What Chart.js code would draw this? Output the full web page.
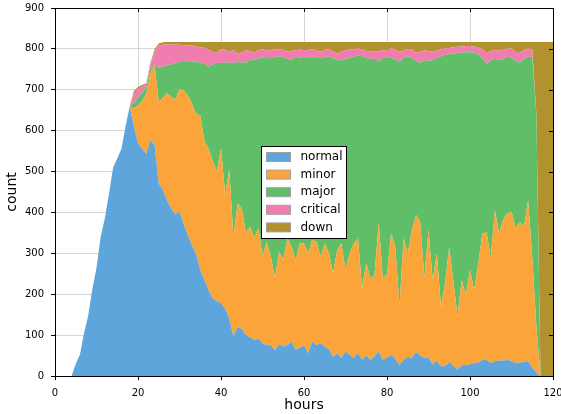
<!DOCTYPE html>
<html>
<head>
<meta charset="utf-8">
<script src="https://cdn.jsdelivr.net/npm/chart.js@4/dist/chart.umd.min.js"></script>
<style>
  html, body { margin: 0; padding: 0; background: #fff; }
</style>
</head>
<body>
<canvas id="chart" width="561" height="414"></canvas>
<script>
// ---------- Data ----------

const hours = [
    0, 1, 2, 3, 4, 5, 6, 7, 8, 9, 10, 11, 12, 13, 14, 15, 16, 17, 18, 19, 20,
    21, 22, 23, 24, 25, 26, 27, 28, 29, 30, 31, 32, 33, 34, 35, 36, 37, 38, 39, 40,
    41, 42, 43, 44, 45, 46, 47, 48, 49, 50, 51, 52, 53, 54, 55, 56, 57, 58, 59, 60,
    61, 62, 63, 64, 65, 66, 67, 68, 69, 70, 71, 72, 73, 74, 75, 76, 77, 78, 79, 80,
    81, 82, 83, 84, 85, 86, 87, 88, 89, 90, 91, 92, 93, 94, 95, 96, 97, 98, 99, 100,
    101, 102, 103, 104, 105, 106, 107, 108, 109, 110, 111, 112, 113, 114, 115, 116, 117, 118, 119, 120
];

const normal = [
    0, 0, 0, 0, 0,
    30, 52, 105, 148, 212, 265, 340, 385, 445, 510, 532, 555, 610,
    660,
    610, 570, 555, 543, 577, 565, 470, 455, 430, 410, 395, 402,
    372, 345, 320, 298, 260, 235, 210, 190, 183, 178,
    165, 140, 96, 120, 115, 100, 95, 88, 92, 80,
    76, 75, 63, 78, 72, 76, 84, 64, 70, 74,
    56, 84, 76, 80, 72, 66, 47, 56, 44, 60,
    52, 44, 56, 40, 50, 40, 48, 60, 40, 44,
    52, 42, 27, 40, 47, 44, 58, 50, 44, 46,
    28, 38, 24, 24, 34, 25, 16, 26, 27, 29,
    31, 33, 39, 39, 32, 36, 37, 38, 39, 37,
    31, 33, 34, 36, 20, 8, 0, 0, 0, 0
];

const minor = [
    0, 0, 0, 0, 0, 0, 0, 0, 0, 0, 0, 0, 0, 0, 0, 0, 0, 0, 0,
    45, 92, 117, 147, 163, 195, 200, 225, 262, 273, 281, 300,
    326, 342, 345, 342, 378, 340, 346, 335, 317, 379,
    278, 364, 244, 302, 295, 250, 270, 250, 270, 215,
    252, 217, 177, 226, 212, 260, 232, 220, 254, 251,
    244, 249, 252, 212, 252, 234, 204, 252, 280, 199,
    248, 280, 281, 174, 225, 199, 199, 315, 197, 206,
    297, 274, 143, 297, 253, 313, 336, 327, 195, 311,
    207, 262, 146, 203, 282, 205, 129, 209, 171, 230,
    179, 243, 310, 312, 256, 370, 312, 344, 359, 365,
    330, 344, 331, 394, 270, 112, 0, 0, 0, 0
];

const major = [
    0, 0, 0, 0, 0, 0, 0, 0, 0, 0, 0, 0, 0, 0, 0, 0, 0, 0, 0,
    12, 20, 21, 15, 10, 2, 84, 77, 68, 79, 88, 66,
    70, 84, 105, 128, 129, 189, 201, 237, 266, 208,
    324, 262, 425, 346, 357, 417, 407, 436, 414, 484,
    449, 486, 540, 478, 495, 439, 458, 496, 455, 453,
    478, 448, 450, 485, 455, 482, 527, 464, 448, 517,
    478, 457, 447, 568, 503, 537, 528, 395, 543, 529,
    429, 460, 598, 442, 482, 421, 376, 389, 534, 414,
    537, 478, 612, 558, 471, 559, 645, 556, 594, 533,
    581, 510, 429, 411, 484, 370, 423, 393, 383, 377,
    409, 389, 411, 350, 491, 520, 0, 0, 0, 0
];

const critical = [
    0, 0, 0, 0, 0, 0, 0, 0, 0, 0, 0, 0, 0, 0, 0, 0, 0, 0, 0,
    24, 20, 15, 8, 13, 31, 54, 53, 51, 49, 46, 42,
    41, 38, 38, 38, 37, 38, 41, 31, 24, 35,
    31, 27, 32, 21, 24, 30, 23, 16, 21, 20,
    19, 19, 20, 17, 18, 19, 21, 17, 19, 19,
    19, 19, 18, 16, 18, 18, 15, 17, 21, 21,
    20, 18, 17, 17, 17, 18, 20, 23, 18, 16,
    24, 21, 25, 17, 18, 21, 21, 27, 23, 24,
    21, 18, 17, 16, 15, 15, 15, 15, 15, 15,
    15, 17, 22, 28, 23, 21, 24, 23, 20, 22,
    23, 24, 21, 21, 17, 0, 0, 0, 0, 0
];

const down = [
    0, 0, 0, 0, 0, 0, 0, 0, 0, 0, 0, 0, 0, 0, 0, 0, 0, 0, 0,
    6, 5, 4, 3, 4, 6, 5, 6, 6, 6, 7, 7,
    8, 8, 9, 11, 13, 15, 19, 24, 27, 17,
    19, 24, 20, 28, 26, 20, 22, 27, 20, 18,
    21, 20, 17, 18, 20, 23, 22, 20, 19, 20,
    20, 17, 21, 24, 20, 17, 24, 28, 24, 20,
    19, 18, 16, 18, 22, 23, 22, 24, 19, 22,
    15, 20, 24, 21, 17, 18, 26, 24, 21, 22,
    24, 21, 18, 16, 15, 13, 12, 11, 10, 10,
    11, 14, 17, 27, 22, 20, 21, 19, 16, 16,
    24, 27, 20, 16, 19, 177, 817, 817, 817, 817
];

const seriesNames = ["normal", "minor", "major", "critical", "down"];
const seriesColors = ["#5DA5DA", "#FAA43A", "#60BD68", "#F17CB0", "#B2912F"];
const seriesValues = [normal, minor, major, critical, down];

const FONT = "'DejaVu Sans', sans-serif";

// ---------- Plugins ----------

// box round the plot, with inward ticks on top and right
const framePlugin = {
    id: "frame",
    afterDatasetsDraw(chart) {
        const { ctx, chartArea: a, scales } = chart;
        ctx.save();
        ctx.strokeStyle = "#000";
        ctx.lineWidth = 1;
        ctx.strokeRect(Math.round(a.left) + 0.5, Math.round(a.top) + 0.5,
            Math.round(a.right - a.left), Math.round(a.bottom - a.top));
        ctx.beginPath();
        scales.x.ticks.forEach(t => {
            const px = Math.round(scales.x.getPixelForValue(t.value)) + 0.5;
            ctx.moveTo(px, a.top);
            ctx.lineTo(px, a.top + 4);
        });
        scales.y.ticks.forEach(t => {
            const py = Math.round(scales.y.getPixelForValue(t.value)) + 0.5;
            ctx.moveTo(a.right, py);
            ctx.lineTo(a.right - 4, py);
        });
        ctx.stroke();
        ctx.restore();
    }
};

// legend box in the middle of the plot
const boxLegendPlugin = {
    id: "boxLegend",
    afterDraw(chart) {
        const { ctx, chartArea: a } = chart;
        const x0 = a.left + 206.5, y0 = a.top + 138.5;
        const w = 85, h = 92, rowH = 17.6;
        ctx.save();
        ctx.fillStyle = "#fff";
        ctx.fillRect(x0, y0, w, h);
        ctx.strokeStyle = "#000";
        ctx.lineWidth = 1;
        ctx.strokeRect(x0, y0, w, h);
        ctx.font = "12px " + FONT;
        ctx.textBaseline = "middle";
        chart.data.datasets.forEach((ds, i) => {
            const cy = y0 + 10.5 + i * rowH;
            ctx.fillStyle = ds.backgroundColor;
            ctx.fillRect(x0 + 5, cy - 4.5, 24, 9);
            ctx.strokeStyle = "#a0a0a0";
            ctx.strokeRect(x0 + 5, cy - 4.5, 24, 9);
            ctx.fillStyle = "#000";
            ctx.fillText(ds.label, x0 + 39, cy);
        });
        ctx.restore();
    }
};

// ---------- Chart ----------

const datasets = seriesNames.map((name, k) => ({
    label: name,
    data: hours.map((hr, i) => ({ x: hr, y: seriesValues[k][i] })),
    backgroundColor: seriesColors[k],
    borderColor: seriesColors[k],
    borderWidth: 0,
    pointRadius: 0,
    tension: 0,
    fill: k === 0 ? "origin" : "-1"
}));

new Chart(document.getElementById("chart"), {
    type: "line",
    data: { datasets: datasets },
    options: {
        responsive: false,
        animation: false,
        devicePixelRatio: 1,
        layout: { padding: { left: 0, right: 8, top: 8, bottom: 0 } },
        plugins: {
            legend: { display: false },
            tooltip: { enabled: false }
        },
        scales: {
            x: {
                type: "linear",
                min: 0,
                max: 120,
                ticks: { stepSize: 20, color: "#000", font: { family: FONT, size: 10 }, padding: 7, maxRotation: 0 },
                grid: { color: "#d6d6d6", tickColor: "#000", tickLength: 4 },
                border: { display: false },
                title: { display: true, text: "hours", color: "#000", font: { family: FONT, size: 14 }, padding: { top: 0, bottom: 0 } },
                afterFit(scale) {
                    scale.height = 38;
                    scale.paddingLeft = 0;
                    scale.paddingRight = 0;
                }
            },
            y: {
                stacked: true,
                min: 0,
                max: 900,
                ticks: { stepSize: 100, color: "#000", font: { family: FONT, size: 10 }, padding: 7 },
                grid: { color: "#d6d6d6", tickColor: "#000", tickLength: 4 },
                border: { display: false },
                title: { display: true, text: "count", color: "#000", font: { family: FONT, size: 14 }, padding: { top: 4, bottom: 0 } },
                afterFit(scale) {
                    scale.width = 55;
                    scale.paddingTop = 0;
                    scale.paddingBottom = 0;
                }
            }
        }
    },
    plugins: [framePlugin, boxLegendPlugin]
});
</script>
</body>
</html>
